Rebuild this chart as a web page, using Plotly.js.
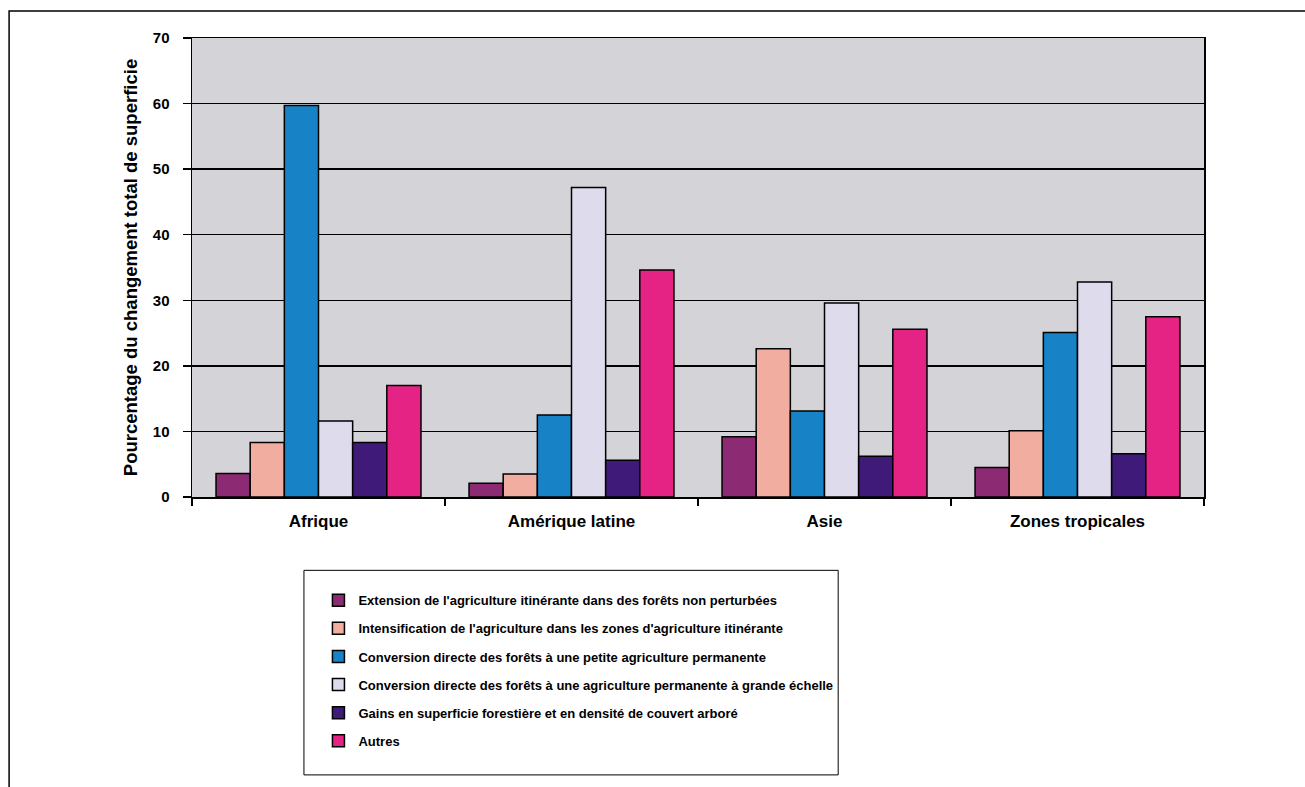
<!DOCTYPE html>
<html>
<head>
<meta charset="utf-8">
<script src="https://cdn.plot.ly/plotly-3.0.1.min.js"></script>
<style>
  html, body { margin: 0; padding: 0; background: #ffffff; }
  #chart { width: 1305px; height: 787px; }
</style>
</head>
<body>
<div id="chart"></div>
<script>
// Regions compared along the x axis
const regions = ['Afrique', 'Amérique latine', 'Asie', 'Zones tropicales'];

// Share (%) of the total change in area, one array per type of change
const extensionItinerante = [3.6, 2.1, 9.2, 4.5];
const intensificationItinerante = [8.3, 3.5, 22.6, 10.1];
const petiteAgriculture = [59.7, 12.5, 13.1, 25.1];
const grandeEchelle = [11.6, 47.2, 29.6, 32.8];
const gainsForestiers = [8.3, 5.6, 6.2, 6.6];
const autres = [17.0, 34.6, 25.6, 27.5];

const seriesNames = [
  "Extension de l'agriculture itinérante dans des forêts non perturbées",
  "Intensification de l'agriculture dans les zones d'agriculture itinérante",
  "Conversion directe des forêts à une petite agriculture permanente",
  "Conversion directe des forêts à une agriculture permanente à grande échelle",
  "Gains en superficie forestière et en densité de couvert arboré",
  "Autres"
];
const seriesValues = [extensionItinerante, intensificationItinerante, petiteAgriculture,
                      grandeEchelle, gainsForestiers, autres];
const seriesColors = ['#8c2a74', '#f2ada1', '#1782c6', '#dddbec', '#3f1a79', '#e52385'];

const yTicks = [0, 10, 20, 30, 40, 50, 60, 70];

const FONT = 'Liberation Sans, Arial, sans-serif';

const traces = seriesNames.map((name, i) => ({
  type: 'bar',
  name: name,
  x: regions,
  y: seriesValues[i],
  legendgroup: 'g' + i,
  marker: { color: seriesColors[i], line: { color: '#000000', width: 1.5 } },
  hoverinfo: 'x+y+name'
}));

// Plot area edges in pixels, used to place the frame and legend
const W = 1305, H = 787;
const L = 191.5, R = 1204, T = 37.5, B = 497.5;
const px = v => (v - L) / (R - L);
const py = v => (B - v) / (B - T);

const layout = {
  width: W,
  height: H,
  margin: { l: L, r: W - R, t: T, b: H - B, pad: 0 },
  paper_bgcolor: '#ffffff',
  plot_bgcolor: '#d4d3d8',
  barmode: 'group',
  bargap: 0.19,
  bargroupgap: 0,
  showlegend: true,
  font: { family: FONT, color: '#000000', size: 13 },
  xaxis: {
    type: 'category',
    showline: true,
    linecolor: '#000000',
    linewidth: 1.5,
    mirror: true,
    ticks: 'outside',
    tickson: 'boundaries',
    ticklen: 7,
    tickwidth: 1.5,
    tickcolor: '#000000',
    ticklabelstandoff: 8,
    showgrid: false,
    tickfont: { family: FONT, size: 17, weight: 'bold', color: '#000000' }
  },
  yaxis: {
    range: [0, 70],
    tickvals: yTicks,
    ticktext: yTicks.map(String),
    showline: true,
    linecolor: '#000000',
    linewidth: 1.5,
    mirror: true,
    ticks: 'outside',
    ticklen: 8,
    tickwidth: 1.5,
    tickcolor: '#000000',
    ticklabelstandoff: 10,
    showgrid: true,
    gridcolor: '#000000',
    gridwidth: 1.5,
    zeroline: false,
    tickfont: { family: FONT, size: 15, weight: 'bold', color: '#000000' },
    title: {
      text: 'Pourcentage du changement total de superficie',
      font: { family: FONT, size: 18.5, weight: 'bold', color: '#000000' },
      standoff: 10
    }
  },
  legend: {
    x: px(318),
    y: py(586),
    xanchor: 'left',
    yanchor: 'top',
    bgcolor: 'rgba(0,0,0,0)',
    borderwidth: 0,
    traceorder: 'grouped',
    tracegroupgap: 8.2,
    font: { family: FONT, size: 13, weight: 'bold', color: '#000000' }
  },
  shapes: [
    // outer frame of the figure
    {
      type: 'rect', xref: 'paper', yref: 'paper',
      x0: px(8.5), x1: px(1340), y0: py(10.5), y1: py(820),
      line: { color: '#000000', width: 1.5 }, fillcolor: 'rgba(0,0,0,0)', layer: 'below'
    },
    // legend frame
    {
      type: 'rect', xref: 'paper', yref: 'paper',
      x0: px(303.5), x1: px(838), y0: py(571), y1: py(776),
      line: { color: '#000000', width: 1 }, fillcolor: 'rgba(0,0,0,0)'
    }
  ]
};

Plotly.newPlot('chart', traces, layout, { displayModeBar: false, staticPlot: true });
</script>
</body>
</html>
